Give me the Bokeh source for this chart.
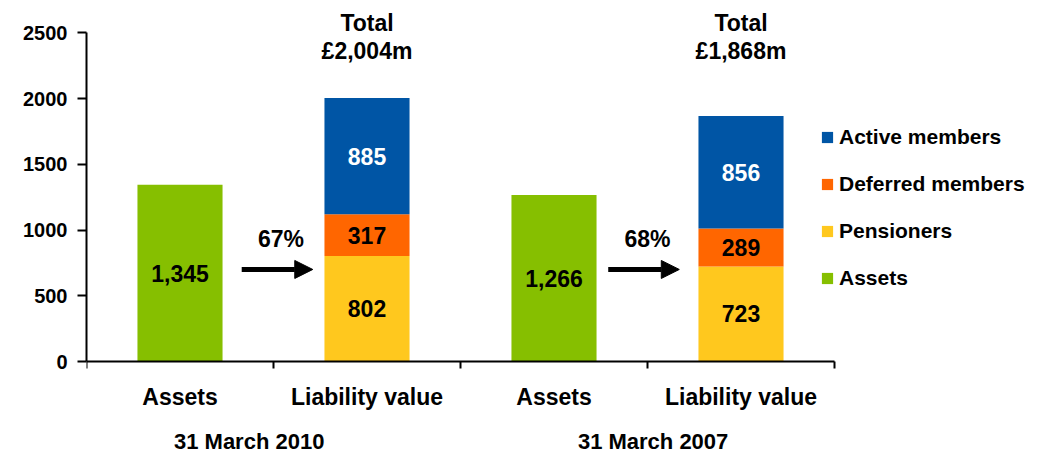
from bokeh.plotting import figure
from bokeh.models import Range1d, FixedTicker, Label, Arrow, NormalHead, Legend, LegendItem
from bokeh.embed import file_html
from bokeh.resources import INLINE

# ---- data ----
periods = ["31 March 2010", "31 March 2007"]
categories = ["Assets", "Liability value"]
assets = [1345, 1266]
pensioners = [802, 723]
deferred = [317, 289]
active = [885, 856]
y_ticks = [0, 500, 1000, 1500, 2000, 2500]
series_names = ["Active members", "Deferred members", "Pensioners", "Assets"]

FONT = "Liberation Sans"
GREEN = "#86BF00"
YELLOW = "#FFC81E"
ORANGE = "#FF6600"
BLUE = "#0055A5"

# ---- layout (pixels) ----
FIG_W, FIG_H = 1035, 454
LEFT = 86           # y-axis position
Y0_PX = 361         # pixel row of value 0
YTOP_PX = 32.3      # pixel row of top tick
CAT_PX = 187        # width of one category slot

n = len(periods)
ymax = y_ticks[-1]
px_per_unit = (Y0_PX - YTOP_PX) / ymax
y_start = -(FIG_H - Y0_PX) / px_per_unit
y_end = ymax + YTOP_PX / px_per_unit
x_end = (FIG_W - LEFT) / CAT_PX

p = figure(width=FIG_W, height=FIG_H, output_backend="svg", toolbar_location=None,
           x_range=Range1d(0, x_end), y_range=Range1d(y_start, y_end),
           min_border=0, min_border_left=LEFT, min_border_right=0,
           min_border_top=0, min_border_bottom=0)
p.outline_line_color = None
p.grid.visible = False
p.background_fill_color = "white"
p.border_fill_color = "white"

ax_x = [2 * i + 0.5 for i in range(n)]
lx_x = [2 * i + 1.5 for i in range(n)]

# axes
p.yaxis.ticker = FixedTicker(ticks=y_ticks)
p.yaxis.bounds = (0, ymax)
p.yaxis.major_label_text_font = FONT
p.yaxis.major_label_text_font_style = "bold"
p.yaxis.major_label_text_font_size = "20px"
p.yaxis.major_label_text_color = "black"
p.yaxis.major_label_standoff = 10
p.yaxis.major_tick_out = 9
p.yaxis.major_tick_in = 0
p.yaxis.minor_tick_out = 0
p.yaxis.minor_tick_in = 0

centers = sorted(ax_x + lx_x)
p.xaxis.ticker = FixedTicker(ticks=centers, minor_ticks=list(range(0, 2 * n + 1)))
p.xaxis.major_label_overrides = {c: categories[k % 2] for k, c in enumerate(centers)}
p.xaxis.bounds = (0, 2 * n)
p.xaxis.fixed_location = 0
p.xaxis.major_tick_out = 0
p.xaxis.major_tick_in = 0
p.xaxis.minor_tick_out = 7
p.xaxis.minor_tick_in = 0
p.xaxis.minor_tick_line_width = 2
p.xaxis.minor_tick_line_color = "black"
p.xaxis.major_label_standoff = 15
p.xaxis.major_label_text_font = FONT
p.xaxis.major_label_text_font_style = "bold"
p.xaxis.major_label_text_font_size = "23px"
p.xaxis.major_label_text_color = "black"
for ax in (p.xaxis, p.yaxis):
    ax.axis_line_width = 2
    ax.axis_line_color = "black"
    ax.major_tick_line_width = 2
    ax.major_tick_line_color = "black"

W = 0.455
b_def = list(pensioners)
t_def = [a + b for a, b in zip(pensioners, deferred)]
t_act = [a + b for a, b in zip(t_def, active)]

r_assets = p.vbar(x=ax_x, bottom=0, top=assets, width=W, fill_color=GREEN, line_color=None)
r_pens = p.vbar(x=lx_x, bottom=0, top=pensioners, width=W, fill_color=YELLOW, line_color=None)
r_def = p.vbar(x=lx_x, bottom=b_def, top=t_def, width=W, fill_color=ORANGE, line_color=None)
r_act = p.vbar(x=lx_x, bottom=t_def, top=t_act, width=W, fill_color=BLUE, line_color=None)


def lab(x, y, text, size="23px", color="black", yoff=0):
    p.add_layout(Label(x=x, y=y, text=text, x_units="data", y_units="data",
                       y_offset=yoff, text_align="center", text_baseline="middle",
                       text_font=FONT, text_font_style="bold", text_font_size=size,
                       text_color=color))


arrow_start = [0.83, 2.79]
arrow_end = [1.21, 3.17]
arrow_y = 700
pct_y = 935

for i in range(n):
    # bar value labels
    lab(ax_x[i], assets[i] / 2, f"{assets[i]:,}")
    lab(lx_x[i], pensioners[i] / 2, f"{pensioners[i]:,}")
    lab(lx_x[i], b_def[i] + deferred[i] / 2, f"{deferred[i]:,}")
    lab(lx_x[i], t_def[i] + active[i] / 2, f"{active[i]:,}", color="white")
    # totals
    lab(lx_x[i], ymax, "Total", yoff=10)
    lab(lx_x[i], ymax, f"£{t_act[i]:,}m", yoff=-18)
    # funding arrow
    p.add_layout(Arrow(x_start=arrow_start[i], y_start=arrow_y, x_end=arrow_end[i], y_end=arrow_y,
                       line_width=5, line_color="black",
                       end=NormalHead(size=18, fill_color="black", line_color="black", line_width=1)))
    lab((arrow_start[i] + arrow_end[i]) / 2 + 0.02, pct_y, f"{round(100 * assets[i] / t_act[i])}%")

group_x = [0.87, 3.03]
for i in range(n):
    lab(group_x[i], 0, periods[i], size="22px", yoff=-80)

legend = Legend(items=[LegendItem(label=series_names[0], renderers=[r_act]),
                       LegendItem(label=series_names[1], renderers=[r_def]),
                       LegendItem(label=series_names[2], renderers=[r_pens]),
                       LegendItem(label=series_names[3], renderers=[r_assets])],
                location=(734, FIG_H - 290), glyph_width=14, glyph_height=14, label_height=20,
                label_standoff=5, spacing=23, padding=0, margin=0,
                border_line_color=None, background_fill_alpha=0,
                label_text_font=FONT, label_text_font_style="bold",
                label_text_font_size="21px", label_text_color="black")
p.add_layout(legend)

open("out.html", "w").write(file_html(p, INLINE))
